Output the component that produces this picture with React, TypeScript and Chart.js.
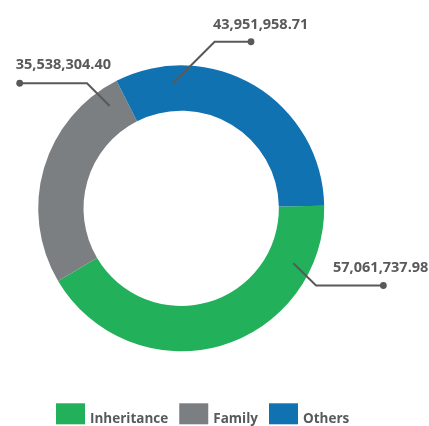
import React, { useEffect, useRef } from "react";
import { Chart, registerables } from "chart.js";

Chart.register(...registerables);

const categories = ["Inheritance", "Family", "Others"];
const values = [57061737.98, 35538304.4, 43951958.71];
const valueLabels = ["57,061,737.98", "35,538,304.40", "43,951,958.71"];
const colors = ["#22B05A", "#7B7F82", "#1172B2"];

const TEXT_COLOR = "#58595B";
const LINE_COLOR = "#58595B";
const FONT_FAMILY = "'Open Sans', 'Noto Sans', sans-serif";

// leader-line layout (per slice, same order as categories)
const leaderLayout = [
  { frac: 0.18, rFrac: 0.6, dx: 22.7, dy: 22.3, hx: 67.3, align: "right", tdx: 45, tdy: -13 },
  { frac: 0.914, rFrac: 0.6, dx: -22.7, dy: -22.7, hx: -67.3, align: "left", tdx: -4, tdy: -14 },
  { frac: 0.198, rFrac: 0.6, dx: 42, dy: -42, hx: 36.4, align: "leftElbow", tdx: -1.6, tdy: -12.3 },
];

const legendLayout = { x: 56, y: 403.3, box: 29, boxH: 21, gap: 5, itemGap: 11, baseline: 422.7 };

const leaderPlugin = {
  id: "leaders",
  afterDraw(chart: any) {
    const ctx = chart.ctx;
    const meta = chart.getDatasetMeta(0);
    ctx.save();
    meta.data.forEach((arc: any, i: number) => {
      const L = leaderLayout[i];
      const { x, y, startAngle, endAngle, innerRadius, outerRadius } = arc.getProps(
        ["x", "y", "startAngle", "endAngle", "innerRadius", "outerRadius"],
        true
      );
      const a = startAngle + L.frac * (endAngle - startAngle);
      const r = innerRadius + L.rFrac * (outerRadius - innerRadius);
      const sx = x + r * Math.cos(a);
      const sy = y + r * Math.sin(a);
      const ex = sx + L.dx;
      const ey = sy + L.dy;
      const dx = ex + L.hx;
      ctx.strokeStyle = LINE_COLOR;
      ctx.lineWidth = 2;
      ctx.beginPath();
      ctx.moveTo(sx, sy);
      ctx.lineTo(ex, ey);
      ctx.lineTo(dx, ey);
      ctx.stroke();
      ctx.fillStyle = LINE_COLOR;
      ctx.beginPath();
      ctx.arc(dx, ey, 3.4, 0, Math.PI * 2);
      ctx.fill();
      ctx.font = `bold 14.5px ${FONT_FAMILY}`;
      ctx.fillStyle = TEXT_COLOR;
      ctx.textBaseline = "alphabetic";
      let tx: number;
      if (L.align === "right") {
        ctx.textAlign = "right";
        tx = dx + L.tdx;
      } else if (L.align === "left") {
        ctx.textAlign = "left";
        tx = dx + L.tdx;
      } else {
        ctx.textAlign = "left";
        tx = ex + L.tdx;
      }
      ctx.fillText(valueLabels[i], tx, ey + L.tdy);
    });

    // legend
    ctx.font = `bold 13.5px ${FONT_FAMILY}`;
    ctx.textAlign = "left";
    ctx.textBaseline = "alphabetic";
    let lx = legendLayout.x;
    categories.forEach((c, i) => {
      ctx.fillStyle = colors[i];
      ctx.fillRect(lx, legendLayout.y, legendLayout.box, legendLayout.boxH);
      lx += legendLayout.box + legendLayout.gap;
      ctx.fillStyle = TEXT_COLOR;
      ctx.fillText(c, lx, legendLayout.baseline);
      lx += ctx.measureText(c).width + legendLayout.itemGap;
    });
    ctx.restore();
  },
};

export default function App() {
  const canvasRef = useRef<HTMLCanvasElement | null>(null);
  useEffect(() => {
    if (!canvasRef.current) return;
    const chart = new Chart(canvasRef.current, {
      type: "doughnut",
      data: {
        labels: categories,
        datasets: [
          {
            data: values,
            backgroundColor: colors,
            borderWidth: 0,
            offset: 0,
            hoverOffset: 0,
          } as any,
        ],
      },
      options: {
        animation: false,
        responsive: true,
        maintainAspectRatio: false,
        rotation: 89,
        cutout: "68.3%",
        layout: { padding: { left: 38.2, top: 65.3, right: 104.8, bottom: 74.7 } },
        plugins: {
          legend: { display: false },
          tooltip: { enabled: false },
        },
      },
      plugins: [leaderPlugin],
    });
    return () => chart.destroy();
  }, []);
  return (
    <div style={{ position: "fixed", left: 0, top: 0, width: 429, height: 426, background: "#fff" }}>
      <canvas ref={canvasRef} />
    </div>
  );
}
